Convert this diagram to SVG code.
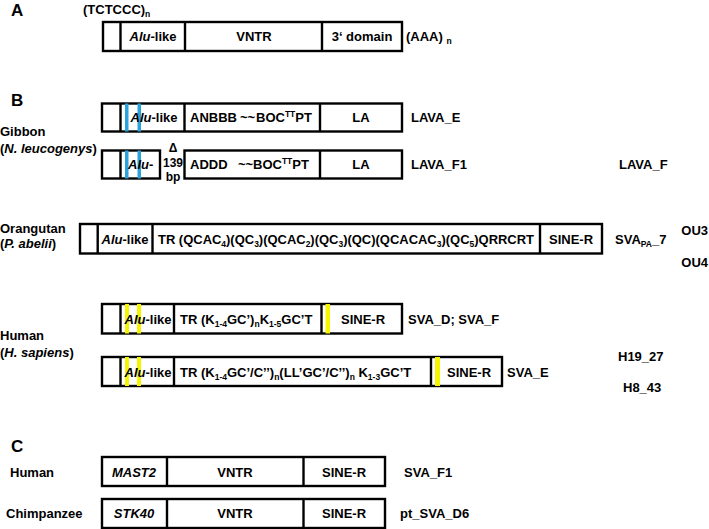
<svg xmlns="http://www.w3.org/2000/svg" width="709" height="529" viewBox="0 0 709 529">
<style>
text{font-family:"Liberation Sans",Arial,sans-serif;font-weight:bold;font-size:13px;fill:#000}
.big{font-size:17px}
.c{text-anchor:middle}
.i{font-style:italic}
.s{font-size:8.5px}
.sm{font-size:12px}
.box{fill:#fff;stroke:#000;stroke-width:2.4}
.ln{stroke:#000;stroke-width:2.4}
.blue{fill:#2aa3dc}
.yel{fill:#f5f500}
</style>
<rect width="709" height="529" fill="#fff"/>

<!-- Section A -->
<g id="secA">
<text class="big" x="11" y="16">A</text>
<text x="83" y="13.5">(TCTCCC)<tspan class="s" dy="3">n</tspan></text>
<rect class="box" x="103" y="22" width="299" height="29"/>
<line class="ln" x1="120.5" y1="22" x2="120.5" y2="51"/>
<line class="ln" x1="185" y1="22" x2="185" y2="51"/>
<line class="ln" x1="322" y1="22" x2="322" y2="51"/>
<text class="c" x="153" y="41"><tspan class="i">Alu</tspan>-like</text>
<text class="c" x="254" y="41">VNTR</text>
<text class="c" x="362" y="41">3‘ domain</text>
<text x="406" y="41">(AAA) <tspan class="s" dy="3">n</tspan></text>
</g>

<!-- Section B -->
<text class="big" x="11" y="106">B</text>
<g id="gibbon-label">
<text x="0" y="136">Gibbon</text>
<text x="0" y="153">(<tspan class="i">N. leucogenys</tspan>)</text>
</g>
<g id="lava-e">
<rect class="box" x="102" y="103.5" width="300" height="28"/>
<rect class="blue" x="125" y="103.5" width="3.5" height="28"/>
<rect class="blue" x="137.5" y="103.5" width="3.5" height="28"/>
<line class="ln" x1="120.5" y1="103.5" x2="120.5" y2="131.5"/>
<line class="ln" x1="184.5" y1="103.5" x2="184.5" y2="131.5"/>
<line class="ln" x1="320" y1="103.5" x2="320" y2="131.5"/>
<text class="c" x="154" y="122"><tspan class="i">Alu</tspan>-like</text>
<text x="190" y="122">ANBBB</text>
<text x="240" y="122">~~</text>
<text x="256" y="122">BOC<tspan class="s" dy="-5">TT</tspan><tspan dy="5">PT</tspan></text>
<text class="c" x="361" y="122">LA</text>
<text x="411" y="122">LAVA_E</text>
</g>
<g id="lava-f1">
<rect class="box" x="102" y="150.5" width="58" height="28"/>
<rect class="blue" x="125" y="150.5" width="3.5" height="28"/>
<rect class="blue" x="137.5" y="150.5" width="3.5" height="28"/>
<line class="ln" x1="120.5" y1="150.5" x2="120.5" y2="178.5"/>
<text x="128" y="169"><tspan class="i">Alu</tspan>-</text>
<text class="c sm" x="173" y="151.5">Δ</text>
<text class="c sm" x="173" y="166.5">139</text>
<text class="c sm" x="173" y="180.5">bp</text>
<rect class="box" x="184.5" y="150.5" width="217.5" height="28"/>
<line class="ln" x1="320" y1="150.5" x2="320" y2="178.5"/>
<text x="190" y="169">ADDD</text>
<text x="238" y="169">~~</text>
<text x="253" y="169">BOC<tspan class="s" dy="-5">TT</tspan><tspan dy="5">PT</tspan></text>
<text class="c" x="361" y="169">LA</text>
<text x="411" y="169">LAVA_F1</text>
<text x="619" y="169">LAVA_F</text>
</g>

<g id="orangutan-label">
<text x="0" y="233">Orangutan</text>
<text x="0" y="248">(<tspan class="i">P. abelii</tspan>)</text>
</g>
<g id="sva-pa-7">
<rect class="box" x="80" y="224" width="522" height="29.5"/>
<line class="ln" x1="97.7" y1="224" x2="97.7" y2="253.5"/>
<line class="ln" x1="152.5" y1="224" x2="152.5" y2="253.5"/>
<line class="ln" x1="540" y1="224" x2="540" y2="253.5"/>
<text class="c" x="125" y="244"><tspan class="i">Alu</tspan>-like</text>
<text x="158" y="244" textLength="376" lengthAdjust="spacingAndGlyphs">TR (QCAC<tspan class="s" dy="3">4</tspan><tspan dy="-3">)(QC</tspan><tspan class="s" dy="3">3</tspan><tspan dy="-3">)(QCAC</tspan><tspan class="s" dy="3">2</tspan><tspan dy="-3">)(QC</tspan><tspan class="s" dy="3">3</tspan><tspan dy="-3">)(QC)(QCACAC</tspan><tspan class="s" dy="3">3</tspan><tspan dy="-3">)(QC</tspan><tspan class="s" dy="3">5</tspan><tspan dy="-3">)QRRCRT</tspan></text>
<text class="c" x="571" y="244">SINE-R</text>
<text x="615" y="244">SVA<tspan class="s" dy="3">PA</tspan><tspan dy="-3">_7</tspan></text>
<text x="708" y="235" style="text-anchor:end">OU3</text>
<text x="708" y="267" style="text-anchor:end">OU4</text>
</g>

<g id="human-label">
<text x="0" y="340">Human</text>
<text x="0" y="357">(<tspan class="i">H. sapiens</tspan>)</text>
</g>
<g id="sva-d-f">
<rect class="box" x="102" y="304" width="300" height="29.5"/>
<rect class="yel" x="125" y="304" width="4" height="29.5"/>
<rect class="yel" x="137" y="304" width="4" height="29.5"/>
<rect class="yel" x="325.5" y="304" width="4.5" height="29.5"/>
<line class="ln" x1="120.5" y1="304" x2="120.5" y2="333.5"/>
<line class="ln" x1="174" y1="304" x2="174" y2="333.5"/>
<line class="ln" x1="321.5" y1="304" x2="321.5" y2="333.5"/>
<text class="c" x="148" y="324"><tspan class="i">Alu</tspan>-like</text>
<text x="180" y="324">TR (K<tspan class="s" dy="3">1-4</tspan><tspan dy="-3">GC’)</tspan><tspan class="s" dy="3">n</tspan><tspan dy="-3">K</tspan><tspan class="s" dy="3">1-5</tspan><tspan dy="-3">GC’T</tspan></text>
<text class="c" x="363" y="324">SINE-R</text>
<text x="408" y="324">SVA_D; SVA_F</text>
</g>
<g id="sva-e">
<rect class="box" x="102" y="357" width="400" height="29"/>
<rect class="yel" x="125" y="357" width="4" height="29"/>
<rect class="yel" x="137" y="357" width="4" height="29"/>
<rect class="yel" x="435" y="357" width="5" height="29"/>
<line class="ln" x1="120.5" y1="357" x2="120.5" y2="386"/>
<line class="ln" x1="174" y1="357" x2="174" y2="386"/>
<line class="ln" x1="431" y1="357" x2="431" y2="386"/>
<text class="c" x="148" y="377"><tspan class="i">Alu</tspan>-like</text>
<text x="180" y="377">TR (K<tspan class="s" dy="3">1-4</tspan><tspan dy="-3">GC’/C’’)</tspan><tspan class="s" dy="3">n</tspan><tspan dy="-3">(LL’GC’/C’’)</tspan><tspan class="s" dy="3">n</tspan><tspan dy="-3"> K</tspan><tspan class="s" dy="3">1-3</tspan><tspan dy="-3">GC’T</tspan></text>
<text class="c" x="469" y="377">SINE-R</text>
<text x="507" y="377">SVA_E</text>
<text x="618" y="361">H19_27</text>
<text x="623" y="392">H8_43</text>
</g>

<!-- Section C -->
<text class="big" x="11" y="452">C</text>
<g id="sva-f1">
<text x="10" y="477">Human</text>
<rect class="box" x="102" y="457" width="283" height="29"/>
<line class="ln" x1="167" y1="457" x2="167" y2="486"/>
<line class="ln" x1="303.5" y1="457" x2="303.5" y2="486"/>
<text class="c i" x="134" y="477">MAST2</text>
<text class="c" x="235" y="477">VNTR</text>
<text class="c" x="344" y="477">SINE-R</text>
<text x="404" y="477">SVA_F1</text>
</g>
<g id="pt-sva-d6">
<text x="6" y="518">Chimpanzee</text>
<rect class="box" x="102" y="499" width="283" height="29"/>
<line class="ln" x1="167" y1="499" x2="167" y2="528"/>
<line class="ln" x1="303.5" y1="499" x2="303.5" y2="528"/>
<text class="c i" x="134" y="518">STK40</text>
<text class="c" x="235" y="518">VNTR</text>
<text class="c" x="344" y="518">SINE-R</text>
<text x="400" y="518">pt_SVA_D6</text>
</g>
<g id="connectors"></g>
</svg>
